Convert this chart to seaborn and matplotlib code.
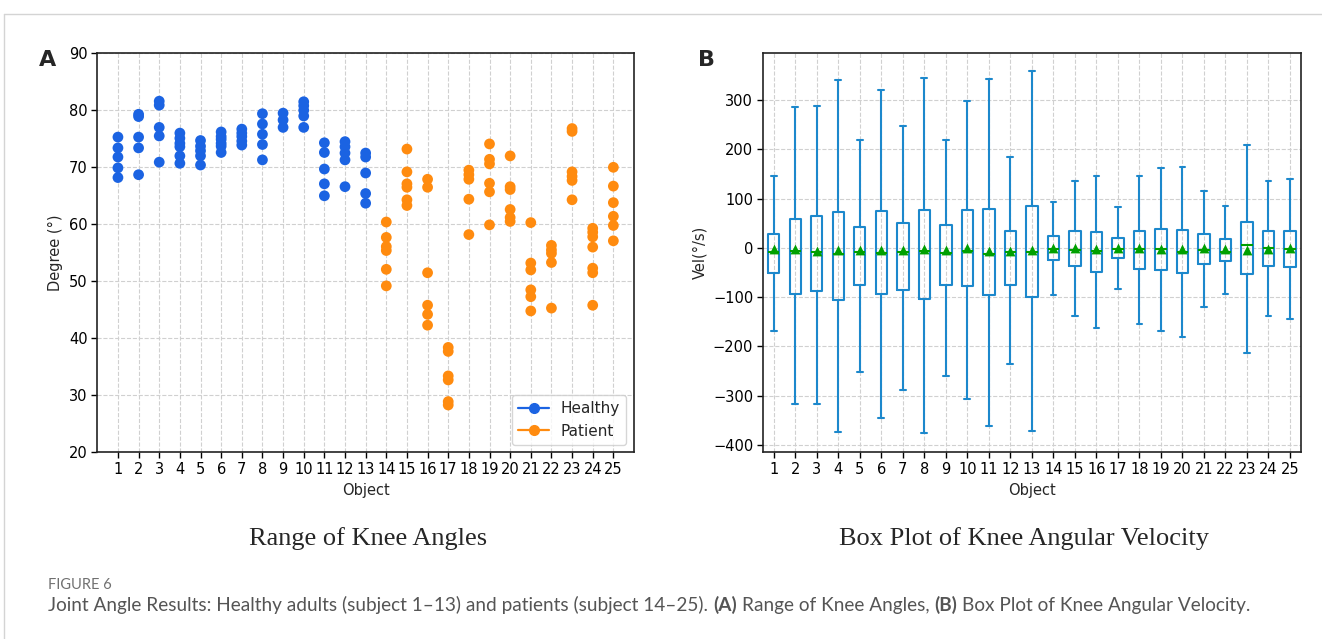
import numpy as np
import pandas as pd
import matplotlib
matplotlib.use("Agg")
import matplotlib.pyplot as plt
import seaborn as sns
from matplotlib.lines import Line2D

# ---------------- data ----------------
subjects = list(range(1, 26))
healthy_ids = list(range(1, 14))
patient_ids = list(range(14, 26))

healthy_angles = [
    [75.3, 73.4, 71.8, 69.9, 68.2],
    [79.3, 78.9, 75.3, 73.4, 68.7],
    [81.6, 80.9, 77.0, 75.5, 70.9],
    [76.0, 75.1, 74.2, 73.6, 72.0, 70.7],
    [74.7, 73.7, 72.9, 72.0, 70.4],
    [76.2, 75.4, 74.9, 74.2, 73.7, 72.6],
    [76.7, 76.0, 75.4, 74.6, 73.9],
    [79.4, 77.6, 75.8, 74.0, 71.3],
    [79.5, 78.3, 77.0],
    [81.5, 80.8, 80.0, 79.0, 77.0],
    [74.3, 72.6, 69.7, 67.1, 65.0],
    [74.5, 73.6, 72.5, 71.3, 66.6],
    [72.5, 71.8, 69.0, 65.4, 63.7],
]
patient_angles = [
    [60.4, 57.7, 56.1, 55.4, 52.1, 49.2],
    [73.2, 69.2, 67.1, 66.5, 64.3, 63.3],
    [67.9, 66.5, 51.5, 45.8, 44.2, 42.3],
    [38.4, 37.7, 33.4, 32.7, 28.9, 28.3],
    [69.5, 68.7, 67.9, 64.4, 58.2],
    [74.1, 71.4, 70.6, 67.2, 65.7, 59.9],
    [72.0, 66.6, 66.1, 62.6, 61.2, 60.5],
    [60.3, 53.2, 52.0, 48.5, 47.3, 44.8],
    [56.3, 55.5, 54.9, 53.3, 45.3],
    [76.8, 76.3, 69.2, 68.4, 67.7, 64.3],
    [59.3, 58.6, 57.8, 56.0, 52.3, 51.5, 45.8],
    [70.0, 66.7, 63.8, 61.4, 59.8, 57.1],
]

vel_whisker_high = [146, 286, 288, 341, 219, 320, 248, 345, 219, 299, 342, 184, 359,
                    94, 136, 145, 83, 146, 163, 165, 116, 85, 209, 136, 139]
vel_q3 = [29, 58, 65, 73, 43, 75, 50, 77, 47, 76, 79, 35, 84,
          24, 34, 32, 20, 34, 38, 36, 28, 18, 53, 34, 34]
vel_median = [-8, -6, -9, -12, -9, -10, -9, -7, -10, -6, -12, -9, -9,
              -3, -4, -6, -2, -2, -3, -8, -5, -8, 5, 0, -2]
vel_q1 = [-51, -94, -88, -106, -76, -94, -86, -104, -76, -77, -96, -75, -100,
          -24, -36, -48, -21, -42, -44, -51, -32, -27, -53, -36, -38]
vel_whisker_low = [-168, -317, -317, -373, -251, -346, -289, -375, -260, -306, -361, -236, -371,
                   -95, -138, -162, -84, -155, -169, -181, -120, -93, -213, -139, -144]
vel_mean = [-2, -3, -6, -5, -5, -5, -4, -3, -5, 0, -6, -6, -5,
            0, 0, -2, 0, -1, -3, -3, 0, -2, -4, -2, -1]

group_labels = ["Healthy", "Patient"]
angle_ticks = [20, 30, 40, 50, 60, 70, 80, 90]
vel_ticks = [-400, -300, -200, -100, 0, 100, 200, 300]

# ---------------- styling ----------------
W, H = 1322, 639
BLUE = "#1b63e2"
ORANGE = "#ff8b0f"
BOXC = "#1c88cc"
GREEN = "#00a000"
SANS = "DejaVu Sans"

sns.set_theme(style="ticks")
plt.rcParams["font.family"] = [SANS]
plt.rcParams["font.sans-serif"] = [SANS]

fig = plt.figure(figsize=(W / 100, H / 100), dpi=100)

def frac_rect(l, t, r, b):
    return [l / W, 1 - b / H, (r - l) / W, (b - t) / H]

axA = fig.add_axes(frac_rect(97.3, 53.3, 634, 452.3))
axB = fig.add_axes(frac_rect(763, 53.3, 1300.7, 452.3))

# ---------------- panel A ----------------
rows = []
for sid, vals in zip(healthy_ids, healthy_angles):
    rows += [(sid, v, "Healthy") for v in vals]
for sid, vals in zip(patient_ids, patient_angles):
    rows += [(sid, v, "Patient") for v in vals]
dfA = pd.DataFrame(rows, columns=["Object", "Degree", "Group"])

sns.scatterplot(data=dfA, x="Object", y="Degree", hue="Group",
                palette={"Healthy": BLUE, "Patient": ORANGE},
                s=60, linewidth=0, ax=axA, legend=False, zorder=3)

axA.set_xlim(0, 26)
axA.set_ylim(20, 90)
axA.set_xticks(subjects)
axA.set_yticks(angle_ticks)
axA.set_xlabel("Object", fontsize=10.5, family=SANS)
axA.set_ylabel("Degree (°)", fontsize=10.5, family=SANS)
handles = [Line2D([0], [0], color=BLUE, marker="o", lw=1.6, ms=7),
           Line2D([0], [0], color=ORANGE, marker="o", lw=1.6, ms=7)]
axA.legend(handles, group_labels, loc="lower right",
           prop={"family": SANS, "size": 11},
           frameon=True, fancybox=True, framealpha=0.8, edgecolor="#cccccc",
           handlelength=2.0, borderpad=0.4)

# ---------------- panel B ----------------
brows = []
for sid, lo, a, m, b, hi in zip(subjects, vel_whisker_low, vel_q1, vel_median, vel_q3, vel_whisker_high):
    for v in (lo, a, m, b, hi):
        brows.append((sid, v))
dfB = pd.DataFrame(brows, columns=["Object", "Vel"])

sns.boxplot(data=dfB, x="Object", y="Vel", native_scale=True, fill=False,
            color=BOXC, linewidth=1.5, width=0.53, whis=(0, 100),
            showfliers=False, ax=axB,
            medianprops=dict(color=GREEN, linewidth=1.5))
sns.scatterplot(x=subjects, y=vel_mean, marker="^", color=GREEN, s=50,
                linewidth=0, ax=axB, zorder=4)

axB.set_xlim(0.5, 25.5)
axB.set_ylim(-415, 395)
axB.set_xticks(subjects)
axB.set_yticks(vel_ticks)
axB.set_xlabel("Object", fontsize=10.5, family=SANS)
axB.set_ylabel("Vel(°/s)", fontsize=10.5, family=SANS)

for ax, yt in ((axA, angle_ticks), (axB, vel_ticks)):
    ax.set_xticklabels([str(s) for s in subjects], family=SANS, fontsize=10.5)
    ax.set_yticklabels([str(v).replace("-", "\u2212") for v in yt], family=SANS, fontsize=10.5)
    ax.grid(True, linestyle="--", color="#d0d0d0", linewidth=0.8)
    ax.set_axisbelow(True)
    ax.tick_params(axis="both", length=4, width=1, color="black",
                   labelcolor="black", pad=3)
    for sp in ax.spines.values():
        sp.set_visible(True)
        sp.set_color("#222222")
        sp.set_linewidth(1.2)

# panel letters
fig.text(48 / W, 1 - 60 / H, "A", fontsize=16, fontweight="bold", family=SANS,
         ha="center", va="center")
fig.text(707 / W, 1 - 60 / H, "B", fontsize=16, fontweight="bold", family=SANS,
         ha="center", va="center")

# sub titles (serif)
fig.text(368 / W, 1 - 539 / H, "Range of Knee Angles", family="Liberation Serif",
         fontsize=19, ha="center", va="center")
fig.text(1024 / W, 1 - 539 / H, "Box Plot of Knee Angular Velocity", family="Liberation Serif",
         fontsize=19, ha="center", va="center")

# frame lines of the page
fig.add_artist(Line2D([4 / W, 1], [1 - 14 / H, 1 - 14 / H], color="#d4d4d4", lw=1))
fig.add_artist(Line2D([4 / W, 4 / W], [0, 1 - 14 / H], color="#d4d4d4", lw=1))

# caption
CAPF = "Lato"
fig.text(48 / W, 1 - 585 / H, "FIGURE 6", family=CAPF, fontsize=10.5, color="#707070",
         ha="left", va="center")

fig.canvas.draw()
renderer = fig.canvas.get_renderer()

def tw(s, weight="normal", size=12.0):
    t = fig.text(0, 0, s, family=CAPF, fontsize=size, fontweight=weight)
    w = t.get_window_extent(renderer).width
    t.remove()
    return w

runs = [("Joint Angle Results: Healthy adults (subject 1–13) and patients (subject 14–25).", "normal"),
        ("(A)", "bold"), ("Range of Knee Angles,", "normal"), ("(B)", "bold"),
        ("Box Plot of Knee Angular Velocity.", "normal")]
base = 12.0
total = sum(tw(t, w_, base) for t, w_ in runs) + (len(runs) - 1) * (tw("a a", "normal", base) - tw("aa", "normal", base))
size = base * (1245 - 48) / total
space_w = tw("a a", "normal", size) - tw("aa", "normal", size)
x = 48.0
for text, weight in runs:
    fig.text(x / W, 1 - 605 / H, text, family=CAPF, fontsize=size, fontweight=weight,
             color="#555555", ha="left", va="center")
    x += tw(text, weight, size) + space_w

fig.savefig("out.png", dpi=100)
